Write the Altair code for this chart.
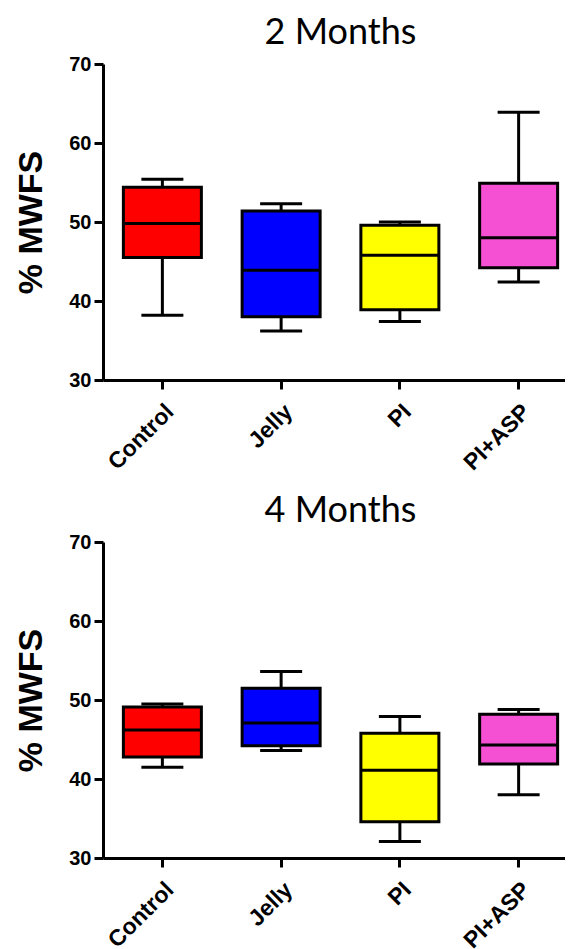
import altair as alt
import pandas as pd

categories = ["Control", "Jelly", "PI", "PI+ASP"]
colors = ["#ff0000", "#0000ff", "#ffff00", "#f54fd3"]

# 2 Months
m2_min = [38.2, 36.2, 37.4, 42.4]
m2_q1 = [45.5, 38.0, 38.9, 44.2]
m2_med = [49.8, 43.9, 45.8, 48.0]
m2_q3 = [54.4, 51.4, 49.6, 54.9]
m2_max = [55.4, 52.3, 50.0, 63.9]

# 4 Months
m4_min = [41.5, 43.6, 32.1, 38.0]
m4_q1 = [42.8, 44.2, 34.6, 41.9]
m4_med = [46.2, 47.1, 41.1, 44.3]
m4_q3 = [49.1, 51.5, 45.8, 48.2]
m4_max = [49.5, 53.6, 47.9, 48.8]

y_ticks = [30, 40, 50, 60, 70]

LABEL_FONT = "Liberation Sans"
TITLE_FONT = "Lato"


def panel(title, lo, q1, med, q3, hi):
    df = pd.DataFrame({"group": categories, "lo": lo, "q1": q1,
                       "med": med, "q3": q3, "hi": hi})
    x = alt.X("group:N", sort=categories, title=None,
              scale=alt.Scale(paddingInner=0, paddingOuter=0),
              axis=alt.Axis(labelAngle=-45, labelFont=LABEL_FONT,
                            labelFontWeight="bold", labelFontSize=23,
                            labelColor="black", labelPadding=11,
                            domainColor="black", domainWidth=3,
                            tickColor="black", tickWidth=3, tickSize=9,
                            grid=False))
    yscale = alt.Scale(domain=[30, 70], nice=False, zero=False)
    yaxis = alt.Axis(values=y_ticks, title="% MWFS", titleFont=LABEL_FONT,
                     titleFontSize=34, titleFontWeight="bold",
                     titleColor="black", titlePadding=20,
                     labelFont=LABEL_FONT, labelFontWeight="bold",
                     labelFontSize=20, labelColor="black", labelPadding=3,
                     domainColor="black", domainWidth=3,
                     tickColor="black", tickWidth=3, tickSize=9, grid=False)
    base = alt.Chart(df)
    whisker = base.mark_rule(color="black", strokeWidth=3).encode(
        x=x, y=alt.Y("lo:Q", scale=yscale, axis=yaxis), y2="hi:Q")
    box = base.mark_bar(size=78, stroke="black", strokeWidth=3).encode(
        x=x, y=alt.Y("q1:Q", scale=yscale, axis=yaxis), y2="q3:Q",
        fill=alt.Fill("group:N", scale=alt.Scale(domain=categories, range=colors),
                      legend=None))
    median = base.mark_tick(size=78, thickness=3, color="black", opacity=1).encode(
        x=x, y=alt.Y("med:Q", scale=yscale, axis=yaxis))
    cap_lo = base.mark_tick(size=42, thickness=3, color="black", opacity=1).encode(
        x=x, y=alt.Y("lo:Q", scale=yscale, axis=yaxis))
    cap_hi = base.mark_tick(size=42, thickness=3, color="black", opacity=1).encode(
        x=x, y=alt.Y("hi:Q", scale=yscale, axis=yaxis))
    return alt.layer(whisker, box, median, cap_lo, cap_hi).properties(
        width=475, height=316,
        title=alt.TitleParams(title, font=TITLE_FONT, fontSize=36,
                              fontWeight="normal", color="black",
                              anchor="middle", offset=2))


chart = alt.vconcat(
    panel("2 Months", m2_min, m2_q1, m2_med, m2_q3, m2_max),
    panel("4 Months", m4_min, m4_q1, m4_med, m4_q3, m4_max),
    spacing=18,
).properties(
    padding={"top": 7, "left": 6, "right": -13, "bottom": 0},
    background="white",
).configure_view(stroke=None, strokeWidth=0).configure_axis(
    domainColor="black", domainWidth=3, tickColor="black", tickWidth=3, grid=False
)

chart.save("out.html", embed_options={"renderer": "svg", "actions": False})
